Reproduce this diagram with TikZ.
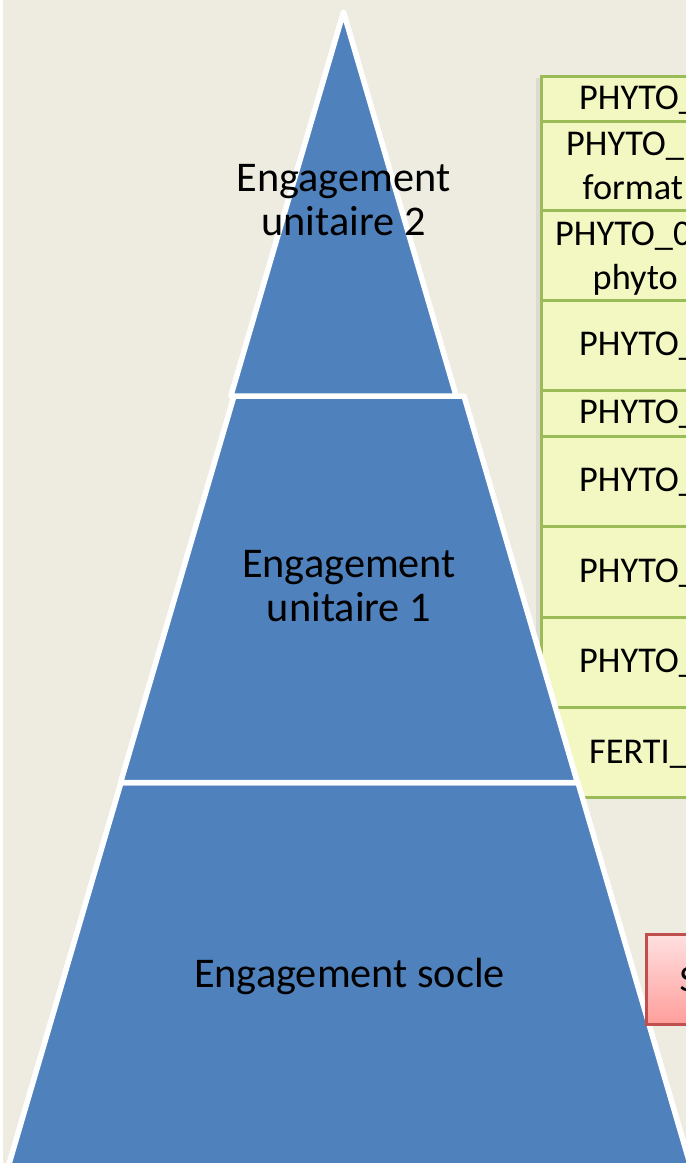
\documentclass[tikz,border=0pt]{standalone}
\usepackage{fontspec}
\setmainfont{Carlito}
\definecolor{bg}{HTML}{EEECE1}
\definecolor{pyr}{HTML}{4F81BD}
\definecolor{tgreen}{HTML}{9BBB59}
\definecolor{tfill}{HTML}{F3F8C2}
\definecolor{rborder}{HTML}{C0504D}
\definecolor{rtop}{HTML}{FFE0E0}
\definecolor{rbot}{HTML}{FF9E9B}
\definecolor{shadowc}{HTML}{DCDBD2}
\begin{document}
\begin{tikzpicture}[x=1pt,y=-1pt,
  layer/.style={fill=pyr, draw=white, line width=5.5pt, line join=round},
  pyrtext/.style={font=\fontsize{42.3}{44}\selectfont, anchor=base, inner sep=0pt},
  rowbox/.style={draw=tgreen, fill=tfill, line width=2.5pt, anchor=north west, minimum width=200pt, inner sep=0pt},
  rowtext/.style={font=\fontsize{36.3}{44}\selectfont, anchor=base west, inner sep=0pt},
  redbox/.style={draw=rborder, line width=2.5pt, top color=rtop, bottom color=rbot, anchor=north west, minimum width=100pt, minimum height=90pt, inner sep=0pt}
]
\path[use as bounding box] (0,0) rectangle (686,1163);
\clip (0,0) rectangle (686,1163);
\fill[white] (0,0) rectangle (686,1163);
\fill[bg] (3,0) rectangle (686,1163);

% shadow of table
\fill[shadowc] (535.5,78) rectangle (540,800);

% table rows
\node[rowbox, minimum height=45pt] (r1) at (540,75) {};
\node[rowbox, minimum height=89pt] (r2) at (540,120) {};
\node[rowbox, minimum height=90pt] (r3) at (540,209) {};
\node[rowbox, minimum height=90pt] (r4) at (540,299) {};
\node[rowbox, minimum height=46pt] (r5) at (540,389) {};
\node[rowbox, minimum height=90pt] (r6) at (540,435) {};
\node[rowbox, minimum height=91pt] (r7) at (540,525) {};
\node[rowbox, minimum height=90pt] (r8) at (540,616) {};
\node[rowbox, minimum height=90pt] (r9) at (540,706) {};

\node[rowtext] (t1) at (579,109) {PHYTO\_};
\node[rowtext] (t2a) at (566,155) {PHYTO\_};
\node[rowtext] (t2b) at (582.5,199) {format};
\node[rowtext] (t3a) at (555,245) {PHYTO\_0};
\node[rowtext] (t3b) at (592.5,289) {phyto};
\node[rowtext] (t4) at (579,355) {PHYTO\_};
\node[rowtext] (t5) at (579,423) {PHYTO\_};
\node[rowtext] (t6) at (579,491) {PHYTO\_};
\node[rowtext] (t7) at (579,582) {PHYTO\_};
\node[rowtext] (t8) at (579,672) {PHYTO\_};
\node[rowtext] (t9) at (589,763) {FERTI\_};

% pyramid
\path[layer] (349.5,782.5) ++(-228.5,0) -- ++(457,0) -- (694.7,1180) -- (4.3,1180) -- cycle;
\path[layer] (234,396) -- (464,396) -- (577.4,782.5) -- (120.6,782.5) -- cycle;
\path[layer] (343.5,12) -- (456.2,396) -- (230.8,396) -- cycle;

\node[pyrtext] (u2a) at (343.5,191) {Engagement};
\node[pyrtext] (u2b) at (343.5,235) {unitaire 2};
\node[pyrtext] (u1a) at (349,577) {Engagement};
\node[pyrtext] (u1b) at (349,621) {unitaire 1};
\node[pyrtext] (soc) at (349.5,987) {Engagement socle};

% red box
\node[redbox] (sbox) at (645,933) {};
\node[rowtext, font=\fontsize{37}{44}\selectfont] (st) at (679.5,991) {S};
\end{tikzpicture}
\end{document}
